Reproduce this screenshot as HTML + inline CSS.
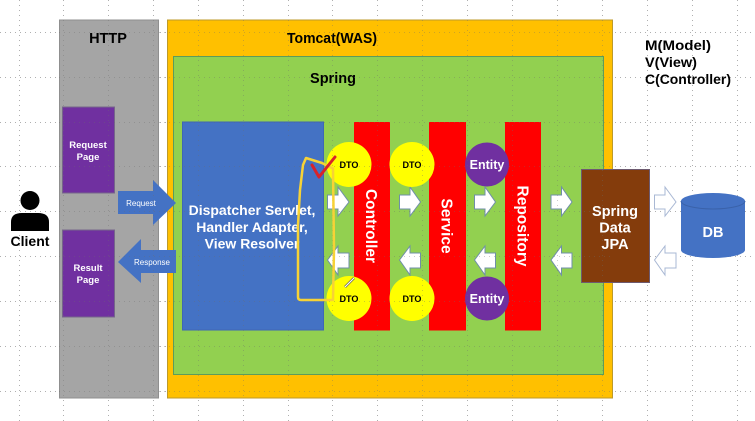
<!DOCTYPE html>
<html><head><meta charset="utf-8"><style>
html,body{margin:0;padding:0;background:#fff;width:755px;height:421px;overflow:hidden}
svg{display:block}
text{font-family:"Liberation Sans",sans-serif;font-weight:bold;text-anchor:middle}
.w{fill:#fff}
.a{fill:#fff;stroke:#6f8fa8;stroke-width:1}
.g{stroke:#6d6d6d;stroke-width:1;stroke-dasharray:1 4;opacity:.55;fill:none}
</style></head><body>
<svg width="755" height="421" viewBox="0 0 755 421" xmlns="http://www.w3.org/2000/svg">
<!-- base grid -->
<path class="g" d="M0 32.500H755M0 77.500H755M0 122.500H755M0 166.500H755M0 211.500H755M0 256.500H755M0 301.500H755M0 346.500H755M0 391.500H755M19.500 0V421M63.500 0V421M108.500 0V421M153.500 0V421M198.500 0V421M243.500 0V421M288.500 0V421M332.500 0V421M377.500 0V421M422.500 0V421M467.500 0V421M512.500 0V421M557.500 0V421M602.500 0V421M647.500 0V421M692.500 0V421M737.500 0V421"/>
<!-- containers -->
<rect x="59.500" y="20" width="99" height="378" fill="#a5a5a5" stroke="#8f8f8f"/>
<rect x="167.500" y="20" width="445" height="378" fill="#ffc000" stroke="#bd9a2a"/>
<rect x="173.500" y="56.500" width="430" height="318" fill="#92d050" stroke="#5d9c5a"/>
<!-- labels -->
<text x="108" y="43" font-size="14.500">HTTP</text>
<text x="332" y="43" font-size="14.500" textLength="90" lengthAdjust="spacingAndGlyphs">Tomcat(WAS)</text>
<text x="333" y="83" font-size="14.500">Spring</text>
<text x="645" y="50" font-size="14" style="text-anchor:start" textLength="66" lengthAdjust="spacingAndGlyphs">M(Model)</text>
<text x="645" y="67" font-size="14" style="text-anchor:start" textLength="52" lengthAdjust="spacingAndGlyphs">V(View)</text>
<text x="645" y="84" font-size="14" style="text-anchor:start" textLength="86" lengthAdjust="spacingAndGlyphs">C(Controller)</text>
<!-- pages -->
<rect x="62.500" y="107" width="52" height="86" fill="#7030a0" stroke="#76668a"/>
<text class="w" x="88" y="148" font-size="9.500">Request</text>
<text class="w" x="88" y="160" font-size="9.500">Page</text>
<rect x="62.500" y="230" width="52" height="87" fill="#7030a0" stroke="#76668a"/>
<text class="w" x="88" y="271" font-size="9.500">Result</text>
<text class="w" x="88" y="283" font-size="9.500">Page</text>
<!-- blue arrows -->
<polygon points="118,191 153,191 153,180 176,203 153,225 153,214 118,214" fill="#4472c4"/>
<text class="w" x="141" y="206" font-size="8" style="font-weight:normal">Request</text>
<polygon points="118,262 141,239 141,250 176,250 176,273 141,273 141,283" fill="#4472c4"/>
<text class="w" x="152" y="265" font-size="8" style="font-weight:normal">Response</text>
<!-- dispatcher -->
<rect x="182.500" y="122" width="141" height="208" fill="#4472c4" stroke="#3f66b5"/>
<text class="w" x="252" y="215" font-size="14">Dispatcher Servlet,</text>
<text class="w" x="252" y="232" font-size="14">Handler Adapter,</text>
<text class="w" x="252" y="248.500" font-size="14">View Resolver</text>
<!-- red bars -->
<rect x="354" y="122" width="36" height="208.500" fill="#ff0000"/>
<rect x="429" y="122" width="37" height="208.500" fill="#ff0000"/>
<rect x="505" y="122" width="36" height="208.500" fill="#ff0000"/>
<text class="w" font-size="15.500" transform="translate(366,226) rotate(90)">Controller</text>
<text class="w" font-size="15.500" transform="translate(441.500,226) rotate(90)">Service</text>
<text class="w" font-size="15.500" transform="translate(517.500,226) rotate(90)">Repository</text>
<!-- white arrows -->
<polygon class="a" points="327.500,195 338,195 338,187 349,202 338,216 338,209 327.500,209"/>
<polygon class="a" points="399.500,195 410,195 410,187 420.500,202 410,216 410,209 399.500,209"/>
<polygon class="a" points="474.500,195 485,195 485,187 495.500,202 485,216 485,209 474.500,209"/>
<polygon class="a" points="551,195 561.500,195 561.500,187 572,202 561.500,216 561.500,209 551,209"/>
<polygon class="a" points="327.500,260 338,246 338,253 349,253 349,268 338,268 338,275"/>
<polygon class="a" points="399.500,260 410,246 410,253 420.500,253 420.500,268 410,268 410,275"/>
<polygon class="a" points="474.500,260 485,246 485,253 495.500,253 495.500,268 485,268 485,275"/>
<polygon class="a" points="551,260 561.500,246 561.500,253 572,253 572,268 561.500,268 561.500,275"/>
<polygon points="654.500,195 665,195 665,187 676,202 665,216 665,209 654.500,209" fill="#fff" stroke="#a9b8d4"/>
<polygon points="654.500,260 665,246 665,253 676,253 676,268 665,268 665,275" fill="#fff" stroke="#a9b8d4"/>
<!-- circles -->
<circle cx="349" cy="164.500" r="22.500" fill="#ffff00"/>
<circle cx="412" cy="164.500" r="22.500" fill="#ffff00"/>
<circle cx="349" cy="298.500" r="22.500" fill="#ffff00"/>
<circle cx="412" cy="298.500" r="22.500" fill="#ffff00"/>
<circle cx="487" cy="164.500" r="22" fill="#7030a0"/>
<circle cx="487" cy="298.500" r="22" fill="#7030a0"/>
<text x="349" y="168" font-size="9.500" textLength="19" lengthAdjust="spacingAndGlyphs">DTO</text>
<text x="412" y="168" font-size="9.500" textLength="19" lengthAdjust="spacingAndGlyphs">DTO</text>
<text x="349" y="302" font-size="9.500" textLength="19" lengthAdjust="spacingAndGlyphs">DTO</text>
<text x="412" y="302" font-size="9.500" textLength="19" lengthAdjust="spacingAndGlyphs">DTO</text>
<text class="w" x="487" y="169" font-size="12.500">Entity</text>
<text class="w" x="487" y="303" font-size="12.500">Entity</text>
<!-- spring data -->
<rect x="581.500" y="169.500" width="68" height="113" fill="#843c0c" stroke="#6d5a70"/>
<text class="w" x="615" y="216" font-size="14.500">Spring</text>
<text class="w" x="615" y="232.500" font-size="14.500">Data</text>
<text class="w" x="615" y="249" font-size="14.500">JPA</text>
<!-- DB -->
<path d="M681 201 A32 8 0 0 1 745 201 V250 A32 8 0 0 1 681 250 Z" fill="#4472c4"/>
<path d="M681 201 A32 8 0 0 0 745 201" fill="none" stroke="#3a62aa"/>
<text class="w" x="713" y="237" font-size="14.500">DB</text>
<!-- client -->
<circle cx="30" cy="200.500" r="9.500" fill="#000"/>
<path d="M11 231 V222 Q11 213 22 213 H38 Q49 213 49 222 V231 Z" fill="#000"/>
<text x="30" y="246" font-size="14">Client</text>
<!-- grid on top -->
<path class="g" style="opacity:.35" d="M59 32.500H613M59 77.500H613M59 122.500H613M59 166.500H613M59 211.500H613M59 256.500H613M59 301.500H613M59 346.500H613M59 391.500H613M63.500 20V398M108.500 20V398M153.500 20V398M198.500 20V398M243.500 20V398M288.500 20V398M332.500 20V398M377.500 20V398M422.500 20V398M467.500 20V398M512.500 20V398M557.500 20V398M602.500 20V398"/>
<!-- annotations -->
<path d="M334 169 L322 163 L306 158 L303 165 L300 190 L298 225 L298 297 Q298 300 301 300 L333 300 L334 250 L333 169" fill="none" stroke="#f7d236" stroke-width="2.500" stroke-linejoin="round"/>
<path d="M312 165 L319 177 L335 157" fill="none" stroke="#d8232a" stroke-width="3" stroke-linecap="round" stroke-linejoin="round"/>
<path d="M345 287 L354 278" stroke="#555" stroke-width="2.500"/>
<path d="M345 287 L354 278" stroke="#fff" stroke-width="1.200"/>
</svg>
</body></html>
